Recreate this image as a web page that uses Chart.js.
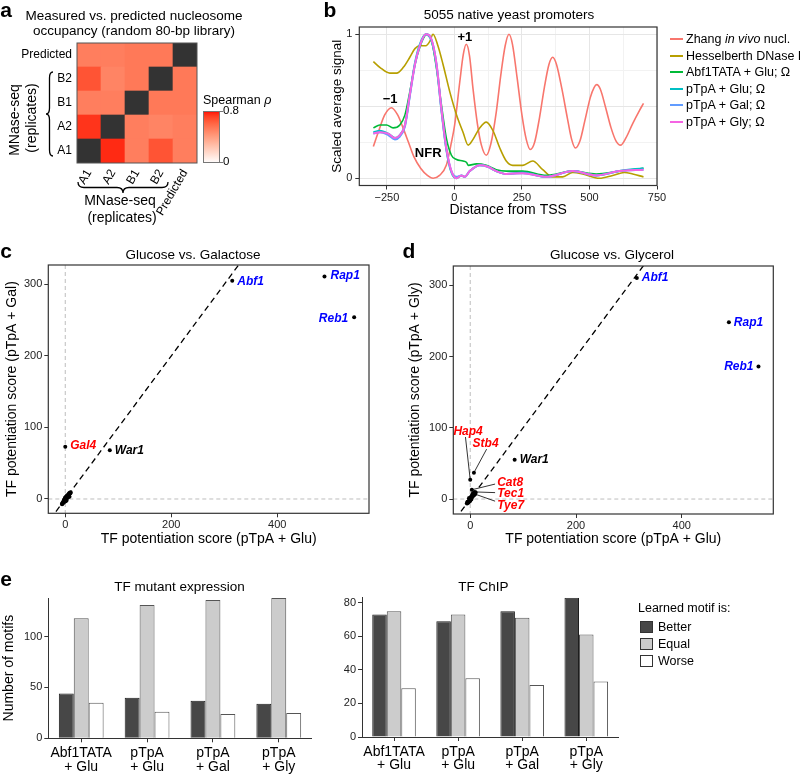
<!DOCTYPE html>
<html>
<head>
<meta charset="utf-8">
<script src="https://cdn.jsdelivr.net/npm/chart.js@4.4.1/dist/chart.umd.min.js"></script>
<style>
  body { margin: 0; background: #fff; font-family: "Liberation Sans", Arial, Helvetica, sans-serif; }
  #fig { position: relative; width: 800px; height: 774px; overflow: hidden; }
  canvas { position: absolute; }
  .t { position: absolute; white-space: nowrap; line-height: 1; color: #000; transform: translate(-50%, -50%); }
  .l { position: absolute; white-space: nowrap; line-height: 1; color: #000; transform: translateY(-50%); }
  .letter { font-weight: bold; font-size: 21px; }
  .title { font-size: 13.5px; }
  .rot { transform: translate(-50%, -50%) rotate(-90deg); }
  .sw { position: absolute; height: 2px; width: 13px; }
  .box { position: absolute; width: 11px; height: 10px; border: 1px solid #333; }
</style>
</head>
<body>
<div id="fig">
  <canvas id="ca" width="260" height="225" style="left:0;top:0"></canvas>
  <canvas id="cb" width="520" height="223" style="left:280px;top:0"></canvas>
  <canvas id="cc" width="400" height="327" style="left:0;top:225px"></canvas>
  <canvas id="cd" width="400" height="327" style="left:400px;top:225px"></canvas>
  <canvas id="ce1" width="330" height="214" style="left:0;top:560px"></canvas>
  <canvas id="ce2" width="470" height="214" style="left:330px;top:560px"></canvas>

  <!-- panel letters -->
  <div class="t letter" style="left:6px;top:9px">a</div>
  <div class="t letter" style="left:330px;top:9px">b</div>
  <div class="t letter" style="left:6px;top:250px">c</div>
  <div class="t letter" style="left:409px;top:250px">d</div>
  <div class="t letter" style="left:6px;top:578px">e</div>

  <!-- panel a text -->
  <div class="t title" style="left:134px;top:16px">Measured vs. predicted nucleosome</div>
  <div class="t title" style="left:134px;top:30.5px">occupancy (random 80-bp library)</div>
  <div class="t rot" style="left:14px;top:120px;font-size:14px">MNase-seq</div>
  <div class="t rot" style="left:31px;top:118px;font-size:14px">(replicates)</div>
  <div class="t" style="left:120px;top:200px;font-size:14px">MNase-seq</div>
  <div class="t" style="left:122px;top:216.5px;font-size:14px">(replicates)</div>
  <div class="l" style="left:203px;top:100px;font-size:12.5px">Spearman <i>ρ</i></div>
  <div class="l" style="left:223px;top:111px;font-size:11.5px">0.8</div>
  <div class="l" style="left:223px;top:162px;font-size:11.5px">0</div>

  <!-- panel b text -->
  <div class="t title" style="left:509px;top:15px">5055 native yeast promoters</div>
  <div id="legB"></div>

  <!-- panel c / d titles -->
  <div class="t title" style="left:193px;top:254.5px">Glucose vs. Galactose</div>
  <div class="t title" style="left:612px;top:254.5px">Glucose vs. Glycerol</div>

  <!-- panel e text -->
  <div class="t title" style="left:179.5px;top:587px">TF mutant expression</div>
  <div class="t title" style="left:483.5px;top:587px">TF ChIP</div>
  <div class="l" style="left:638px;top:608px;font-size:12.5px">Learned motif is:</div>
  <div id="legE"></div>
</div>

<script>
// ---- panel a: Spearman correlation matrix (rows listed bottom to top) ----
const heatLabels = ["A1", "A2", "B1", "B2", "Predicted"];
const rhoA1   = [null, 0.76, 0.52, 0.66, 0.52];
const rhoA2   = [0.74, null, 0.52, 0.50, 0.52];
const rhoB1   = [0.52, 0.52, null, 0.54, 0.54];
const rhoB2   = [0.66, 0.50, 0.54, null, 0.54];
const rhoPred = [0.52, 0.52, 0.54, 0.54, null];
const rhoMax = 0.8;

// ---- panel b: scaled average signal vs distance from TSS ----
const zhangX = [-300,-280,-258,-233,-210,-190,-170,-150,-125,-100,-79,-55,-30,-12,1,20,33,44,56,69,85,100,118,135,155,172,188,202,215,232,250,266,281,297,315,333,350,364,378,398,418,434,448,465,483,503,517,527,540,560,580,598,615,635,660,685,700];
const zhangY = [0.22,0.33,0.44,0.49,0.44,0.35,0.25,0.15,0.07,0.02,0.0,0.02,0.09,0.24,0.37,0.67,0.86,0.93,0.85,0.62,0.38,0.23,0.16,0.24,0.46,0.72,0.92,1.0,0.93,0.70,0.44,0.27,0.20,0.25,0.42,0.63,0.79,0.84,0.79,0.62,0.42,0.27,0.21,0.26,0.40,0.56,0.63,0.65,0.62,0.49,0.35,0.26,0.23,0.28,0.38,0.47,0.52];
const hessX = [-300,-276,-239,-214,-189,-165,-146,-128,-106,-91,-79,-61,-42,-17,8,32,51,69,94,118,143,168,192,216,253,290,327,364,401,438,475,537,586,629,660,700];
const hessY = [0.81,0.77,0.73,0.73,0.77,0.84,0.90,0.92,0.92,0.95,1.0,0.92,0.79,0.60,0.44,0.32,0.23,0.27,0.35,0.39,0.33,0.21,0.12,0.09,0.09,0.12,0.06,0.01,0.01,0.04,0.03,0.0,0.02,0.04,0.03,0.01];
const abfX = [-300,-276,-251,-227,-202,-183,-165,-146,-128,-109,-100,-84,-66,-48,-30,-11,8,32,45,51,82,118,155,192,253,340,438,525,611,700];
const abfY = [0.35,0.37,0.37,0.35,0.37,0.44,0.60,0.79,0.91,0.99,1.0,0.95,0.76,0.51,0.28,0.16,0.13,0.12,0.11,0.09,0.10,0.09,0.06,0.05,0.05,0.02,0.05,0.03,0.05,0.07];
const ptpaX = [-300,-276,-245,-220,-202,-183,-165,-146,-128,-106,-84,-66,-48,-30,-11,8,26,38,57,94,124,155,192,253,340,438,525,611,700];
const ptpaGluY = [0.32,0.33,0.31,0.28,0.30,0.37,0.58,0.80,0.93,1.0,0.95,0.78,0.47,0.20,0.04,0.0,0.02,0.01,0.05,0.09,0.08,0.05,0.03,0.04,0.01,0.05,0.02,0.05,0.07];
const ptpaGalY = [0.31,0.32,0.30,0.27,0.29,0.36,0.57,0.79,0.92,1.0,0.96,0.79,0.48,0.21,0.05,0.01,0.02,0.01,0.05,0.09,0.08,0.05,0.03,0.035,0.01,0.05,0.02,0.05,0.06];
const ptpaGlyY = [0.31,0.32,0.31,0.28,0.30,0.37,0.58,0.79,0.92,1.0,0.96,0.79,0.48,0.21,0.05,0.0,0.02,0.01,0.05,0.09,0.08,0.05,0.03,0.035,0.01,0.05,0.02,0.05,0.06];
const seriesNames = ["Zhang <i>in vivo</i> nucl.", "Hesselberth DNase I", "Abf1TATA + Glu; Ω",
                     "pTpA + Glu; Ω", "pTpA + Gal; Ω", "pTpA + Gly; Ω"];
const tssTicks = [-250, 0, 250, 500, 750];

// ---- panels c, d: TF potentiation scores ----
const tfNames  = ["Abf1", "Rap1", "Reb1", "War1", "Gal4", "Hap4", "Stb4", "Cat8", "Tec1", "Tye7"];
const scoreGlu = [315, 489, 545, 84, 0, 0, 7, 3, 8, 5];
const scoreGal = [305, 311, 254, 68, 73, 2, 4, 1, 3, 2];
const scoreGly = [310, 248, 186, 55, 1, 27, 37, 13, 10, 8];
const otherGlu = [-6, -4, -3, -2, -1, 0, 0, 1, 1, 2, 2, 3, 3, 4, 5, 6, 7, 8, 9, 10, -5, -2, 0, 2, 4];
const otherGal = [-7, -5, -3, -4, -2, -1, 1, 0, 2, 1, 3, 2, 4, 5, 4, 6, 7, 8, 8, 9, -6, -1, -3, -2, 3];
const otherGly = [-6, -5, -4, -3, -2, 0, -1, 2, 1, 3, 2, 4, 3, 5, 6, 5, 6, 8, 7, 9, -4, 1, -2, 0, 4];

// ---- panel e: learned motif comparison counts ----
const groupLabels = [["Abf1TATA", "+ Glu"], ["pTpA", "+ Glu"], ["pTpA", "+ Gal"], ["pTpA", "+ Gly"]];
const outcomeNames = ["Better", "Equal", "Worse"];
const mutBetter  = [44, 40, 37, 34];
const mutEqual   = [118, 131, 136, 138];
const mutWorse   = [35, 26, 24, 25];
const chipBetter = [73, 69, 75, 83];
const chipEqual  = [75, 73, 71, 61];
const chipWorse  = [29, 35, 31, 33];

// ------------------------------------------------------------------
const FONT = '"Liberation Sans", Arial, Helvetica, sans-serif';
Chart.defaults.font.family = FONT;
Chart.defaults.color = "#000";
Chart.defaults.animation = false;
Chart.defaults.responsive = false;
Chart.defaults.plugins.legend.display = false;
Chart.defaults.plugins.tooltip.enabled = false;

const hueColors = ["#F8766D", "#B79F00", "#00BA38", "#00BFC4", "#619CFF", "#F564E3"];
const barFill   = ["#474747", "#CCCCCC", "#FFFFFF"];
const barEdge   = ["#1e1e1e", "#555555", "#555555"];
const blue = "#0000FF", red = "#FF0000";

function fixW(w) { return s => { s.width = w; }; }
function fixH(h) { return s => { s.height = h; }; }
function setTicks(vals) { return s => { s.ticks = vals.map(v => ({ value: v })); }; }

// white -> red gradient interpolated in CIELAB (like ggplot's scale_fill_gradient)
function rhoColor(v) {
  const t = Math.max(0, Math.min(1, v / rhoMax));
  const L = 100 + (53.24 - 100) * t, A = 80.09 * t, B = 67.2 * t;
  const fy = (L + 16) / 116, fx = fy + A / 500, fz = fy - B / 200;
  const inv = u => (u ** 3 > 0.008856 ? u ** 3 : (u - 16 / 116) / 7.787);
  const X = 0.95047 * inv(fx), Y = inv(fy), Z = 1.08883 * inv(fz);
  const lin = [3.2406 * X - 1.5372 * Y - 0.4986 * Z,
               -0.9689 * X + 1.8758 * Y + 0.0415 * Z,
               0.0557 * X - 0.204 * Y + 1.057 * Z];
  const c = lin.map(u => {
    u = Math.max(0, Math.min(1, u));
    u = u <= 0.0031308 ? 12.92 * u : 1.055 * Math.pow(u, 1 / 2.4) - 0.055;
    return Math.round(u * 255);
  });
  return "rgb(" + c.join(",") + ")";
}

function braceV(ctx, x, y1, y2, d) {
  const xm = x - d / 2, ym = (y1 + y2) / 2, r = 6;
  ctx.beginPath();
  ctx.moveTo(x, y1);
  ctx.quadraticCurveTo(xm, y1, xm, y1 + r);
  ctx.lineTo(xm, ym - r);
  ctx.quadraticCurveTo(xm, ym, x - d, ym);
  ctx.quadraticCurveTo(xm, ym, xm, ym + r);
  ctx.lineTo(xm, y2 - r);
  ctx.quadraticCurveTo(xm, y2, x, y2);
  ctx.stroke();
}
function braceH(ctx, y, x1, x2, d) {
  const ym = y + d / 2, xm = (x1 + x2) / 2, r = 6;
  ctx.beginPath();
  ctx.moveTo(x1, y);
  ctx.quadraticCurveTo(x1, ym, x1 + r, ym);
  ctx.lineTo(xm - r, ym);
  ctx.quadraticCurveTo(xm, ym, xm, y + d);
  ctx.quadraticCurveTo(xm, ym, xm + r, ym);
  ctx.lineTo(x2 - r, ym);
  ctx.quadraticCurveTo(x2, ym, x2, y);
  ctx.stroke();
}

// --- a: heatmap -----------------------------------------------------
const heatRows = [rhoA1, rhoA2, rhoB1, rhoB2, rhoPred];
const heatDecor = {
  id: "heatDecor",
  afterDraw(chart) {
    const { ctx, chartArea: a } = chart;
    ctx.save();
    ctx.strokeStyle = "#555"; ctx.lineWidth = 1;
    ctx.strokeRect(a.left, a.top, a.width, a.height);
    // colour bar
    const bx = a.right + 6, bw = 17, yb = a.bottom, yt = a.bottom - 52;
    const g = ctx.createLinearGradient(0, yb, 0, yt);
    for (let i = 0; i <= 20; i++) g.addColorStop(i / 20, rhoColor(rhoMax * i / 20));
    ctx.fillStyle = g;
    ctx.fillRect(bx, yt, bw, yb - yt);
    ctx.strokeStyle = "#777";
    ctx.strokeRect(bx + 0.5, yt + 0.5, bw - 1, yb - yt - 1);
    ctx.beginPath();
    ctx.moveTo(bx + bw, yt + 0.5); ctx.lineTo(bx + bw + 3, yt + 0.5);
    ctx.moveTo(bx + bw, yb - 0.5); ctx.lineTo(bx + bw + 3, yb - 0.5);
    ctx.stroke();
    // braces
    ctx.strokeStyle = "#000"; ctx.lineWidth = 1.3;
    braceV(ctx, 53, 72, 156, 7);
    braceH(ctx, 182, 78, 168, 11);
    ctx.restore();
  }
};

new Chart(document.getElementById("ca"), {
  type: "bar",
  data: {
    labels: heatLabels,
    datasets: heatRows.map((row, r) => ({
      data: row.map(() => [r, r + 1]),
      backgroundColor: row.map(v => (v === null ? "#333333" : rhoColor(v))),
      borderWidth: 0,
      barPercentage: 1,
      categoryPercentage: 1,
      grouped: false
    }))
  },
  options: {
    layout: { padding: { left: 0, top: 43, right: 63, bottom: 0 } },
    scales: {
      x: {
        grid: { display: false, drawTicks: false },
        border: { display: false },
        ticks: { autoSkip: false, minRotation: 60, maxRotation: 60, padding: 4, font: { size: 12 }, color: "#000" },
        afterFit: fixH(62)
      },
      y: {
        min: 0, max: 5,
        grid: { display: false, drawTicks: false },
        border: { display: false },
        afterBuildTicks: setTicks(heatLabels.map((_, i) => i + 0.5)),
        ticks: { callback: (v, i) => heatLabels[i], padding: 5, font: { size: 12 }, color: "#000" },
        afterFit: fixW(77)
      }
    }
  },
  plugins: [heatDecor]
});

// --- b: TSS profiles --------------------------------------------------
const tssSeries = [[zhangX, zhangY], [hessX, hessY], [abfX, abfY],
                   [ptpaX, ptpaGluY], [ptpaX, ptpaGalY], [ptpaX, ptpaGlyY]];
const tssText = {
  id: "tssText",
  afterDatasetsDraw(chart) {
    const { ctx, chartArea: a, scales: { x, y } } = chart;
    ctx.save();
    ctx.font = "bold 13px " + FONT;
    ctx.textAlign = "center"; ctx.textBaseline = "middle"; ctx.fillStyle = "#000";
    [["−1", -238, 0.55], ["+1", 39, 0.98], ["NFR", -97, 0.17]].forEach(([s, vx, vy]) =>
      ctx.fillText(s, x.getPixelForValue(vx), y.getPixelForValue(vy)));
    ctx.strokeStyle = "#333"; ctx.lineWidth = 1.2;
    ctx.strokeRect(a.left, a.top, a.width, a.height);
    ctx.restore();
  }
};
new Chart(document.getElementById("cb"), {
  type: "line",
  data: {
    datasets: tssSeries.map(([xs, ys], k) => ({
      data: xs.map((v, i) => ({ x: v, y: ys[i] })),
      borderColor: hueColors[k],
      borderWidth: k >= 3 ? 2 : 1.6,
      pointRadius: 0,
      cubicInterpolationMode: "monotone",
      order: 6 - k
    }))
  },
  options: {
    layout: { padding: { left: 45, top: 27, right: 143, bottom: 0 } },
    scales: {
      x: {
        type: "linear", min: -352, max: 750,
        afterBuildTicks: setTicks([-250, -125, 0, 125, 250, 375, 500, 625, 750]),
        ticks: { callback: v => (tssTicks.includes(v) ? (v < 0 ? "−" + (-v) : String(v)) : ""), font: { size: 11 }, color: "#222", padding: 2, maxRotation: 0 },
        grid: { color: c => (tssTicks.includes(c.tick.value) ? "#E6E6E6" : "#F2F2F2"),
                tickColor: c => (tssTicks.includes(c.tick.value) ? "#333" : "rgba(0,0,0,0)"), tickLength: 4 },
        border: { display: false },
        title: { display: true, text: "Distance from TSS", font: { size: 14 } },
        afterFit: fixH(37.5)
      },
      y: {
        min: -0.05, max: 1.05,
        afterBuildTicks: setTicks([0, 0.25, 0.5, 0.75, 1]),
        ticks: { callback: v => (v === 0 || v === 1 ? String(v) : ""), font: { size: 11 }, color: "#222", padding: 3 },
        grid: { color: c => (c.tick.value === 0 || c.tick.value === 1 || c.tick.value === 0.5 ? "#E6E6E6" : "#F2F2F2"),
                tickColor: c => (c.tick.value === 0 || c.tick.value === 1 ? "#333" : "rgba(0,0,0,0)"), tickLength: 4 },
        border: { display: false },
        title: { display: true, text: "Scaled average signal", font: { size: 13.5 } },
        afterFit: fixW(34.3)
      }
    }
  },
  plugins: [tssText]
});

// legend for b
(function () {
  const box = document.getElementById("legB");
  const rowsY = [39, 55.5, 72, 88.5, 105, 121.5];
  seriesNames.forEach((name, k) => {
    box.insertAdjacentHTML("beforeend",
      '<div class="sw" style="left:670px;top:' + (rowsY[k] - 1) + 'px;background:' + hueColors[k] + '"></div>' +
      '<div class="l" style="left:686px;top:' + rowsY[k] + 'px;font-size:12.5px">' + name + "</div>");
  });
})();

// --- c, d: scatter plots ------------------------------------------------
function scatterPanel(id, yVals, otherY, yTitle, labelSet, pad, yWidth, xHeight, yMin) {
  const deco = {
    id: "tfDeco",
    beforeDatasetsDraw(chart) {
      const { ctx, chartArea: a, scales: { x, y } } = chart;
      const x0 = x.getPixelForValue(0), y0 = y.getPixelForValue(0);
      ctx.save();
      ctx.strokeStyle = "#BDBDBD"; ctx.lineWidth = 1; ctx.setLineDash([4, 3]);
      ctx.beginPath();
      ctx.moveTo(x0, a.top); ctx.lineTo(x0, a.bottom);
      ctx.moveTo(a.left, y0); ctx.lineTo(a.right, y0);
      ctx.stroke();
      ctx.restore();
    },
    afterDatasetsDraw(chart) {
      const { ctx, chartArea: a, scales: { x, y } } = chart;
      ctx.save();
      ctx.font = "italic bold 12px " + FONT;
      ctx.textBaseline = "middle";
      labelSet.forEach(l => {
        const i = tfNames.indexOf(l.name);
        const px = x.getPixelForValue(scoreGlu[i]), py = y.getPixelForValue(yVals[i]);
        ctx.fillStyle = l.color;
        if (l.lx !== undefined) {
          ctx.strokeStyle = "#000"; ctx.lineWidth = 0.8;
          ctx.beginPath();
          ctx.moveTo(x.getPixelForValue(l.from[0]), y.getPixelForValue(l.from[1]));
          ctx.lineTo(px, py);
          ctx.stroke();
          ctx.textAlign = l.align;
          ctx.fillText(l.name, x.getPixelForValue(l.lx), y.getPixelForValue(l.ly));
        } else {
          ctx.textAlign = l.dx < 0 ? "right" : "left";
          ctx.fillText(l.name, px + l.dx, py + (l.dy || 0));
        }
      });
      ctx.strokeStyle = "#333"; ctx.lineWidth = 1.2;
      ctx.strokeRect(a.left, a.top, a.width, a.height);
      ctx.restore();
    }
  };
  new Chart(document.getElementById(id), {
    type: "scatter",
    data: {
      datasets: [
        { data: scoreGlu.map((v, i) => ({ x: v, y: yVals[i] })), pointRadius: 2, backgroundColor: "#000", borderWidth: 0 },
        { data: otherGlu.map((v, i) => ({ x: v, y: otherY[i] })), pointRadius: 2.2, backgroundColor: "#000", borderWidth: 0 },
        // y = x reference line
        { type: "line", data: [{ x: -40, y: -40 }, { x: 340, y: 340 }], borderColor: "#000", borderWidth: 1.3,
          borderDash: [6, 4], pointRadius: 0 }
      ]
    },
    options: {
      layout: { padding: pad },
      scales: {
        x: {
          type: "linear", min: -32, max: 573,
          afterBuildTicks: setTicks([0, 200, 400]),
          ticks: { font: { size: 11 }, color: "#222", padding: 1, maxRotation: 0 },
          grid: { drawOnChartArea: false, tickColor: "#333", tickLength: 4 },
          border: { display: false },
          title: { display: true, text: "TF potentiation score (pTpA + Glu)", font: { size: 14 } },
          afterFit: fixH(xHeight)
        },
        y: {
          min: yMin, max: 327,
          afterBuildTicks: setTicks([0, 100, 200, 300]),
          ticks: { font: { size: 11 }, color: "#222", padding: 2 },
          grid: { drawOnChartArea: false, tickColor: "#333", tickLength: 4 },
          border: { display: false },
          title: { display: true, text: yTitle, font: { size: 14 } },
          afterFit: fixW(yWidth)
        }
      }
    },
    plugins: [deco]
  });
}

const labelsGal = [
  { name: "Abf1", color: blue, dx: 5, dy: 1 },
  { name: "Rap1", color: blue, dx: 6, dy: -1 },
  { name: "Reb1", color: blue, dx: -6, dy: 1 },
  { name: "War1", color: "#000", dx: 5 },
  { name: "Gal4", color: red, dx: 5, dy: -1 }
];
const labelsGly = [
  { name: "Abf1", color: blue, dx: 5 },
  { name: "Rap1", color: blue, dx: 5 },
  { name: "Reb1", color: blue, dx: -5 },
  { name: "War1", color: "#000", dx: 5 },
  { name: "Hap4", color: red, lx: -4, ly: 94, align: "center", from: [-9, 87] },
  { name: "Stb4", color: red, lx: 29, ly: 78, align: "center", from: [31, 70] },
  { name: "Cat8", color: red, lx: 51, ly: 23, align: "left", from: [47, 21] },
  { name: "Tec1", color: red, lx: 51, ly: 7, align: "left", from: [47, 9] },
  { name: "Tye7", color: red, lx: 51, ly: -9, align: "left", from: [47, -3] }
];

scatterPanel("cc", scoreGal, otherGal, "TF potentiation score (pTpA + Gal)", labelsGal,
  { left: 0, top: 40, right: 31, bottom: 0 }, 48.3, 38.7, -20);
scatterPanel("cd", scoreGly, otherGly, "TF potentiation score (pTpA + Gly)", labelsGly,
  { left: 3, top: 41, right: 26.7, bottom: 0 }, 50.3, 38, -21);

// --- e: bar charts -----------------------------------------------------
function barPanel(id, series, yMax, yTicks, pad, yWidth, xHeight, yTitle) {
  new Chart(document.getElementById(id), {
    type: "bar",
    data: {
      labels: groupLabels,
      datasets: series.map((vals, k) => ({
        label: outcomeNames[k],
        data: vals,
        backgroundColor: barFill[k],
        borderColor: barEdge[k],
        borderWidth: 1,
        borderSkipped: "bottom",
        categoryPercentage: 0.68,
        barPercentage: 1
      }))
    },
    options: {
      layout: { padding: pad },
      scales: {
        x: {
          grid: { display: true, drawOnChartArea: false, offset: false, tickColor: "#333", tickLength: 4 },
          border: { display: true, color: "#333", width: 1 },
          ticks: { font: { size: 14, lineHeight: 0.95 }, color: "#000", padding: 4.5, maxRotation: 0, autoSkip: false },
          afterFit: fixH(xHeight)
        },
        y: {
          min: 0, max: yMax,
          afterBuildTicks: setTicks(yTicks),
          grid: { drawOnChartArea: false, tickColor: "#333", tickLength: 4 },
          border: { display: true, color: "#333", width: 1 },
          ticks: { font: { size: 11 }, color: "#222", padding: 2 },
          title: { display: !!yTitle, text: yTitle || "", font: { size: 14 }, padding: { top: 1, bottom: 4 } },
          afterFit: fixW(yWidth)
        }
      }
    }
  });
}
barPanel("ce1", [mutBetter, mutEqual, mutWorse], 138, [0, 50, 100],
  { left: 0, top: 38, right: 18.3, bottom: 0 }, 48.3, 35.7, "Number of motifs");
barPanel("ce2", [chipBetter, chipEqual, chipWorse], 83, [0, 20, 40, 60, 80],
  { left: 0, top: 37.7, right: 181.7, bottom: 0 }, 32, 37, "");

// legend for e
(function () {
  const box = document.getElementById("legE");
  const rowsY = [626.5, 643.5, 661];
  outcomeNames.forEach((name, k) => {
    box.insertAdjacentHTML("beforeend",
      '<div class="box" style="left:640px;top:' + (rowsY[k] - 6) + 'px;background:' + barFill[k] + '"></div>' +
      '<div class="l" style="left:658px;top:' + rowsY[k] + 'px;font-size:12.5px">' + name + "</div>");
  });
})();
</script>
</body>
</html>
